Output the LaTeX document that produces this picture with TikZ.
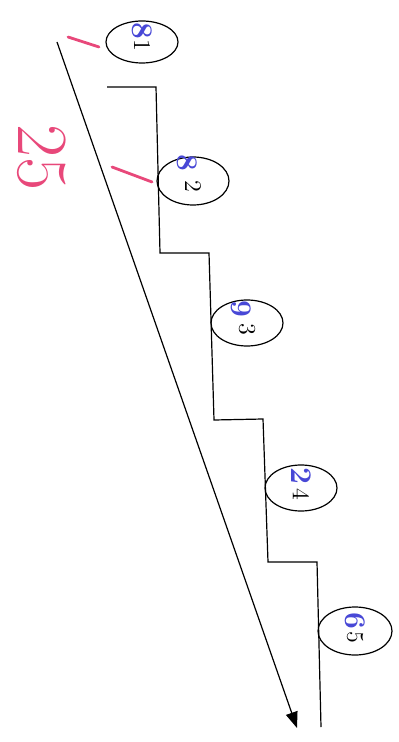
\documentclass[tikz,border=0pt]{standalone}
\usepackage{tikz}
\usetikzlibrary{shapes.geometric, arrows.meta}

\definecolor{penpink}{RGB}{232,72,122}
\definecolor{penblue}{RGB}{72,72,214}

\tikzset{
    bubble/.style={draw, ellipse, line width=0.6pt, inner sep=0pt, minimum width=36pt, minimum height=23pt},
    digit/.style={inner sep=0pt, font=\fontsize{12}{12}\selectfont, rotate=-90},
    handblue/.style={inner sep=0pt, text=penblue, font=\fontsize{15}{15}\selectfont\bfseries, rotate=-90},
    handpink/.style={penpink, line width=1.4pt, line cap=round}
}

\begin{document}
\begin{tikzpicture}[x=0.5pt, y=-0.5pt]
    % Units: one unit = one pixel of the scanned sheet, y runs downwards.
    \useasboundingbox (0,0) rectangle (398,742);

    % Staircase (slightly tilted as on the scan)
    \draw[line width=0.6pt] (107,87) -- (156,87) -- (160,253) -- (209,253) -- (214,420)
        -- (263,419) -- (268,562) -- (317,562) -- (321,727);

    % Numbered bubbles on the steps
    \node[bubble, minimum height=21pt] (e1) at (142,42) {};
    \node[bubble, minimum height=24pt] (e2) at (193,181) {};
    \node[bubble] (e3) at (247,323) {};
    \node[bubble] (e4) at (301,488) {};
    \node[bubble, minimum width=37pt, minimum height=24pt] (e5) at (355,631) {};

    \node[digit] (d1) at ([yshift=-1.5pt]e1.center) {1};
    \node[digit] (d2) at ([yshift=-2.5pt]e2.center) {2};
    \node[digit] (d3) at ([yshift=-3pt]e3.center) {3};
    \node[digit] (d4) at ([yshift=-3pt]e4.center) {4};
    \node[digit] (d5) at ([yshift=-3pt]e5.center) {5};

    % Handwritten marks in blue
    \node[handblue] (b1) at ([yshift=5.5pt]e1.center) {8};
    \node[handblue] (b2) at ([xshift=-3pt, yshift=9pt]e2.center) {8};
    \node[handblue] (b3) at ([xshift=-3pt, yshift=7pt]e3.center) {9};
    \node[handblue] (b4) at ([yshift=6pt]e4.center) {2};
    \node[handblue] (b5) at ([yshift=5pt]e5.center) {6};

    % Diagonal arrow
    \coordinate (start) at (57,42);
    \coordinate (tip) at (297,728);
    \draw[line width=0.6pt, -{Triangle[length=8pt, width=6pt]}] (start) -- (tip);

    % Pink ticks and score
    \draw[handpink] (68,37) -- (99,47);
    \draw[handpink] (112,167) -- (152,182);
    \node[text=penpink, inner sep=0pt, font=\fontsize{36}{36}\selectfont, rotate=-90] (score) at (42,158) {25};
\end{tikzpicture}
\end{document}
